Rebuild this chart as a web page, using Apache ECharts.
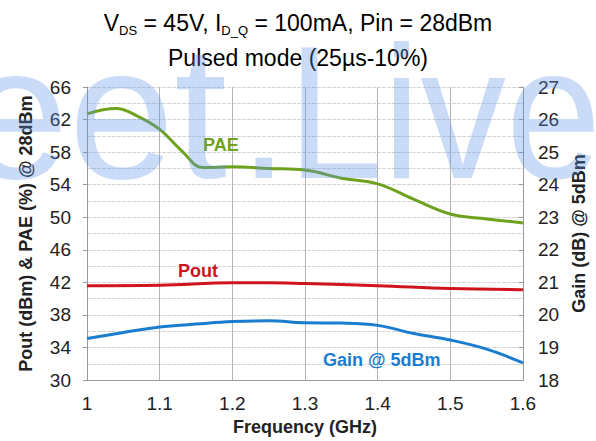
<!DOCTYPE html>
<html>
<head>
<meta charset="utf-8">
<script src="https://cdn.jsdelivr.net/npm/echarts@6/dist/echarts.min.js"></script>
<style>
  html, body { margin: 0; padding: 0; background: #fff; }
  #main { width: 596px; height: 441px; }
</style>
</head>
<body>
<div id="main"></div>
<script>
// values
var xTicks = [1, 1.1, 1.2, 1.3, 1.4, 1.5, 1.6];

var paeFreq = [1.0, 1.04, 1.07, 1.1, 1.13, 1.16, 1.2, 1.25, 1.3, 1.35, 1.4, 1.45, 1.5, 1.55, 1.6];
var paeVals = [62.7, 63.35, 62.4, 60.8, 58.2, 56.1, 56.2, 56.0, 55.8, 54.8, 54.1, 52.2, 50.4, 49.8, 49.3];

var poutFreq = [1.0, 1.1, 1.2, 1.25, 1.3, 1.4, 1.5, 1.6];
var poutVals = [41.6, 41.65, 41.95, 41.95, 41.85, 41.6, 41.25, 41.1];

var gainFreq = [1.0, 1.05, 1.1, 1.15, 1.2, 1.25, 1.3, 1.35, 1.4, 1.45, 1.5, 1.55, 1.6];
var gainVals = [19.28, 19.46, 19.63, 19.72, 19.8, 19.82, 19.76, 19.75, 19.68, 19.43, 19.23, 18.95, 18.53];

function pairs(xs, ys) {
  return xs.map(function (x, i) { return [x, ys[i]]; });
}

var FONT = 'Liberation Sans, Arial, sans-serif';
var WM = 'rgba(95,145,235,0.33)';
var chart = echarts.init(document.getElementById('main'), null, { renderer: 'svg' });

chart.setOption({
  animation: false,
  textStyle: { fontFamily: FONT },
  title: {
    left: 'center',
    top: 4,
    itemGap: 8,
    text: '{n|V}{s|DS}{n| = 45V, I}{s|D_Q}{n| = 100mA, Pin = 28dBm}',
    textStyle: {
      fontWeight: 'normal',
      rich: {
        n: { fontSize: 23, lineHeight: 28, color: '#000', fontWeight: 'normal', fontFamily: FONT },
        s: { fontSize: 13, lineHeight: 12, color: '#000', fontWeight: 'normal', verticalAlign: 'bottom', fontFamily: FONT }
      }
    },
    subtext: 'Pulsed mode (25µs-10%)',
    subtextStyle: { fontSize: 23, lineHeight: 30, color: '#000', fontFamily: FONT }
  },
  grid: { left: 87, right: 67, top: 87, bottom: 55 },
  xAxis: {
    type: 'value',
    min: 1,
    max: 1.6,
    interval: 0.1,
    name: 'Frequency (GHz)',
    nameLocation: 'middle',
    nameGap: 33,
    nameTextStyle: { fontSize: 18, fontWeight: 'bold', color: '#222' },
    axisLine: { lineStyle: { color: '#999' } },
    axisTick: { show: false },
    axisLabel: { fontSize: 19, color: '#222', margin: 14 },
    splitLine: { show: true, lineStyle: { color: '#b4b4b4' } }
  },
  yAxis: [
    {
      type: 'value',
      min: 30,
      max: 66,
      interval: 4,
      name: 'Pout (dBm) & PAE (%) @ 28dBm',
      nameLocation: 'middle',
      nameRotate: 90,
      nameGap: 52,
      nameTextStyle: { fontSize: 18, fontWeight: 'bold', color: '#222' },
      axisLine: { show: true, lineStyle: { color: '#999' } },
      axisTick: { show: true, length: 4, lineStyle: { color: '#999' } },
      axisLabel: { fontSize: 19, color: '#222', margin: 16 },
      splitLine: { show: true, lineStyle: { color: '#d6d6d6', type: [4, 1] } },
      minorTick: { show: false, splitNumber: 2 },
      minorSplitLine: { show: true, lineStyle: { color: '#d6d6d6', type: [4, 1] } }
    },
    {
      type: 'value',
      min: 18,
      max: 27,
      interval: 1,
      name: 'Gain (dB) @ 5dBm',
      nameLocation: 'middle',
      nameRotate: 90,
      nameGap: 42,
      nameTextStyle: { fontSize: 18, fontWeight: 'bold', color: '#222' },
      axisLine: { show: true, lineStyle: { color: '#999' } },
      axisTick: { show: true, inside: true, length: 4, lineStyle: { color: '#999' } },
      axisLabel: { fontSize: 19, color: '#222', margin: 15 },
      splitLine: { show: false }
    }
  ],
  series: [
    {
      name: 'PAE',
      type: 'line',
      yAxisIndex: 0,
      smooth: 0.4,
      showSymbol: false,
      lineStyle: { color: '#6ea21e', width: 3 },
      data: pairs(paeFreq, paeVals)
    },
    {
      name: 'Pout',
      type: 'line',
      yAxisIndex: 0,
      smooth: 0.4,
      showSymbol: false,
      lineStyle: { color: '#d0141c', width: 3 },
      data: pairs(poutFreq, poutVals)
    },
    {
      name: 'Gain',
      type: 'line',
      yAxisIndex: 1,
      smooth: 0.4,
      showSymbol: false,
      lineStyle: { color: '#1a7dd0', width: 3 },
      data: pairs(gainFreq, gainVals)
    }
  ],
  graphic: [
    { type: 'text', left: 203, top: 136, z: 50,
      style: { text: 'PAE', fill: '#6ea21e', font: 'bold 18px ' + FONT } },
    { type: 'text', left: 178, top: 262, z: 50,
      style: { text: 'Pout', fill: '#d0141c', font: 'bold 18px ' + FONT } },
    { type: 'text', left: 323, top: 351, z: 50,
      style: { text: 'Gain @ 5dBm', fill: '#1a7dd0', font: 'bold 18px ' + FONT } },
    // watermark, in two pieces
    { type: 'text', x: -37, y: 207, z: 100, silent: true,
      style: { text: 'eet', fill: WM, font: '190px ' + FONT,
               textAlign: 'left', textVerticalAlign: 'bottom' } },
    { type: 'text', x: 240, y: 207, scaleX: 0.9, z: 100, silent: true,
      style: { text: '.Live', fill: WM, font: '190px ' + FONT,
               textAlign: 'left', textVerticalAlign: 'bottom' } }
  ]
});
</script>
</body>
</html>
